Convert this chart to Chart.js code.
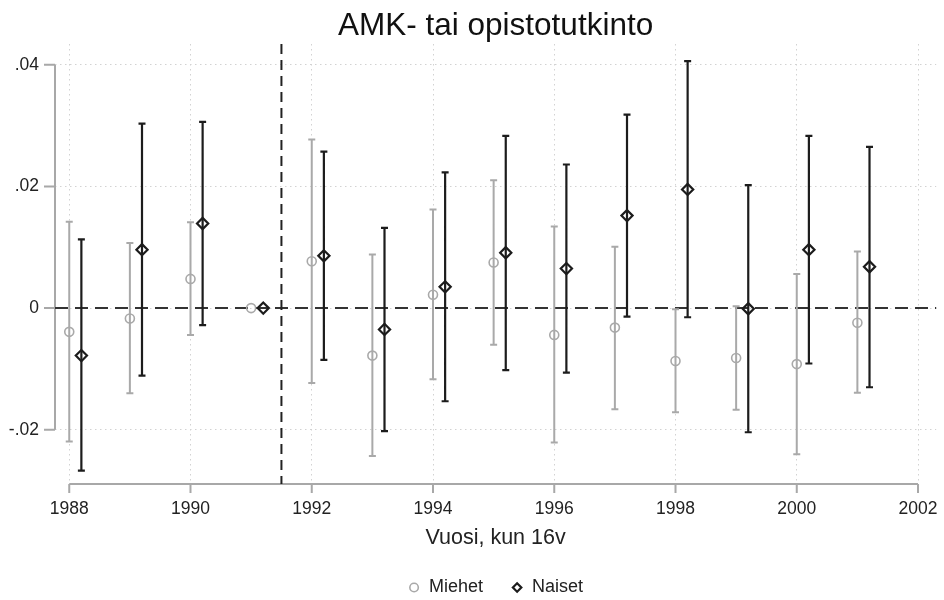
<!DOCTYPE html>
<html>
<head>
<meta charset="utf-8">
<title>AMK- tai opistotutkinto</title>
<script src="https://cdn.jsdelivr.net/npm/chart.js@4.4.1/dist/chart.umd.min.js"></script>
<style>
    html, body { margin: 0; padding: 0; background: #fff; }
    #wrap { width: 944px; height: 600px; }
</style>
</head>
<body>
<div id="wrap"><canvas id="chart" width="944" height="600"></canvas></div>
<script>
// Data
const years = [1988, 1989, 1990, 1991, 1992, 1993, 1994, 1995, 1996, 1997, 1998, 1999, 2000, 2001];

const miehet   = [-0.0039, -0.0017, 0.0048, 0, 0.0077, -0.0078, 0.0022, 0.0075, -0.0044, -0.0032, -0.0087, -0.0082, -0.0092, -0.0024];
const miehetLo = [-0.0219, -0.0140, -0.0044, null, -0.0123, -0.0243, -0.0117, -0.0060, -0.0221, -0.0166, -0.0171, -0.0167, -0.0240, -0.0139];
const miehetHi = [0.0142, 0.0107, 0.0141, null, 0.0277, 0.0088, 0.0162, 0.0210, 0.0134, 0.0101, -0.0002, 0.0003, 0.0056, 0.0093];

const naiset   = [-0.0078, 0.0096, 0.0139, 0, 0.0086, -0.0035, 0.0035, 0.0091, 0.0065, 0.0152, 0.0195, -0.0001, 0.0096, 0.0068];
const naisetLo = [-0.0267, -0.0111, -0.0028, null, -0.0085, -0.0202, -0.0153, -0.0102, -0.0106, -0.0014, -0.0015, -0.0204, -0.0091, -0.0130];
const naisetHi = [0.0113, 0.0303, 0.0306, null, 0.0257, 0.0132, 0.0223, 0.0283, 0.0236, 0.0318, 0.0406, 0.0202, 0.0283, 0.0265];

const xTicks = [1988, 1990, 1992, 1994, 1996, 1998, 2000, 2002];
const yTicks = [-0.02, 0, 0.02, 0.04];
const yTickLabels = ['-.02', '0', '.02', '.04'];
const reformYear = 1991.5;

// Look
const naisetShift = 0.2;
const font = '"Liberation Sans", Arial, sans-serif';
const greyBar = '#a9a9a9';
const darkBar = '#1c1c1c';
const axisGrey = '#a8a8a8';
const gridGrey = '#d2d2d2';

// Axis lines, dashed reference lines and the CI whiskers
const errorBars = {
    id: 'errorBars',
    beforeDatasetsDraw(chart) {
        const { ctx, chartArea: a, scales: { x, y } } = chart;
        ctx.save();

        // axis lines only span the labelled ticks, like Stata does
        ctx.strokeStyle = axisGrey;
        ctx.lineWidth = 2;
        ctx.setLineDash([]);
        ctx.beginPath();
        ctx.moveTo(x.getPixelForValue(xTicks[0]), a.bottom);
        ctx.lineTo(x.getPixelForValue(xTicks[xTicks.length - 1]), a.bottom);
        xTicks.forEach(v => {
            const px = x.getPixelForValue(v);
            ctx.moveTo(px, a.bottom);
            ctx.lineTo(px, a.bottom + 9);
        });
        ctx.moveTo(a.left, y.getPixelForValue(yTicks[0]));
        ctx.lineTo(a.left, y.getPixelForValue(yTicks[yTicks.length - 1]));
        yTicks.forEach(v => {
            const py = y.getPixelForValue(v);
            ctx.moveTo(a.left - 11, py);
            ctx.lineTo(a.left, py);
        });
        ctx.stroke();

        // zero line
        const y0 = y.getPixelForValue(0);
        ctx.strokeStyle = '#333';
        ctx.lineWidth = 2;
        ctx.setLineDash([13, 7]);
        ctx.beginPath();
        ctx.moveTo(a.left, y0);
        ctx.lineTo(a.right, y0);
        ctx.stroke();

        // reform year
        const xr = x.getPixelForValue(reformYear);
        ctx.strokeStyle = '#222';
        ctx.setLineDash([10, 6]);
        ctx.beginPath();
        ctx.moveTo(xr, a.top);
        ctx.lineTo(xr, a.bottom);
        ctx.stroke();

        ctx.setLineDash([]);
        drawWhiskers(ctx, x, y, years.map(v => v), miehetLo, miehetHi, greyBar, 2);
        drawWhiskers(ctx, x, y, years.map(v => v + naisetShift), naisetLo, naisetHi, darkBar, 2.2);
        ctx.restore();
    }
};

function drawWhiskers(ctx, x, y, xs, lo, hi, color, width) {
    const cap = 3.5;
    ctx.strokeStyle = color;
    ctx.lineWidth = width;
    ctx.beginPath();
    xs.forEach((xv, i) => {
        if (lo[i] === null || hi[i] === null) return;
        const px = x.getPixelForValue(xv);
        const pLo = y.getPixelForValue(lo[i]);
        const pHi = y.getPixelForValue(hi[i]);
        ctx.moveTo(px, pLo);
        ctx.lineTo(px, pHi);
        ctx.moveTo(px - cap, pLo);
        ctx.lineTo(px + cap, pLo);
        ctx.moveTo(px - cap, pHi);
        ctx.lineTo(px + cap, pHi);
    });
    ctx.stroke();
}

const ctx = document.getElementById('chart').getContext('2d');

new Chart(ctx, {
    type: 'scatter',
    data: {
        datasets: [
            {
                label: 'Miehet',
                data: years.map((yr, i) => ({ x: yr, y: miehet[i] })),
                pointStyle: 'circle',
                pointRadius: 4.5,
                borderWidth: 1.6,
                borderColor: greyBar,
                backgroundColor: 'rgba(0,0,0,0)'
            },
            {
                label: 'Naiset',
                data: years.map((yr, i) => ({ x: yr + naisetShift, y: naiset[i] })),
                pointStyle: 'rectRot',
                pointRadius: 5.6,
                borderWidth: 2.2,
                borderColor: darkBar,
                backgroundColor: 'rgba(0,0,0,0)'
            }
        ]
    },
    options: {
        responsive: false,
        animation: false,
        devicePixelRatio: 1,
        events: [],
        layout: { padding: { left: 0, right: 7, top: 0, bottom: -6.5 } },
        plugins: {
            title: {
                display: true,
                text: 'AMK- tai opistotutkinto',
                fullSize: false,
                color: '#111',
                font: { family: font, size: 31.5, weight: 'normal', lineHeight: 1.0 },
                padding: { top: 11, bottom: 1.5 }
            },
            legend: {
                position: 'bottom',
                fullSize: false,
                labels: {
                    usePointStyle: true,
                    boxWidth: 12,
                    boxHeight: 6,
                    padding: 28,
                    color: '#222',
                    font: { family: font, size: 18 }
                }
            },
            tooltip: { enabled: false }
        },
        scales: {
            x: {
                type: 'linear',
                min: 1987.765,
                max: 2002.3,
                afterBuildTicks: s => { s.ticks = xTicks.map(v => ({ value: v })); },
                afterFit: s => { s.height = 66.5; },
                grid: { color: gridGrey, lineWidth: 1, drawTicks: true, tickLength: 15, tickColor: 'rgba(0,0,0,0)' },
                border: { display: false, dash: [1.5, 3.5] },
                ticks: {
                    autoSkip: false,
                    maxRotation: 0,
                    padding: 0,
                    color: '#222',
                    font: { family: font, size: 17.5 },
                    callback: v => String(v)
                },
                title: {
                    display: true,
                    text: 'Vuosi, kun 16v',
                    color: '#222',
                    font: { family: font, size: 21.5 },
                    padding: { top: 0, bottom: 0 }
                }
            },
            y: {
                type: 'linear',
                min: -0.0289,
                max: 0.0434,
                afterBuildTicks: s => { s.ticks = yTicks.map(v => ({ value: v })); },
                afterFit: s => { s.width = 55; },
                grid: { color: gridGrey, lineWidth: 1, drawTicks: false },
                border: { display: false, dash: [1.5, 3.5] },
                ticks: {
                    padding: 16,
                    color: '#222',
                    font: { family: font, size: 17.5 },
                    callback: v => yTickLabels[yTicks.indexOf(v)]
                }
            }
        }
    },
    plugins: [errorBars]
});
</script>
</body>
</html>
